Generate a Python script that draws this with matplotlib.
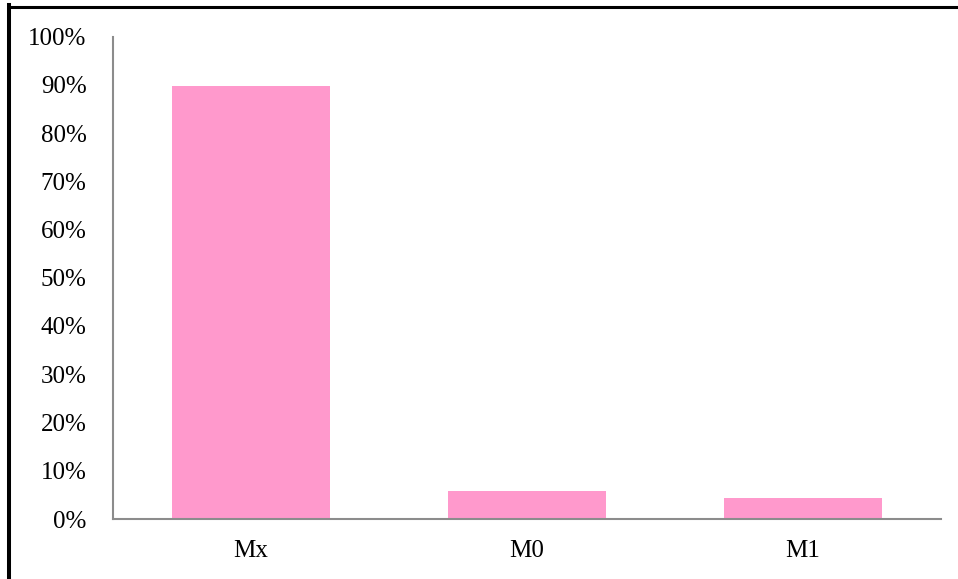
import matplotlib.pyplot as plt
from matplotlib.lines import Line2D
from matplotlib.ticker import PercentFormatter

categories = ['Mx', 'M0', 'M1']
shares = [0.897, 0.058, 0.0435]
y_ticks = [i / 10 for i in range(11)]

plt.rcParams['font.family'] = ['Liberation Serif', 'DejaVu Serif']

W, H = 958, 579
fig = plt.figure(figsize=(W / 100, H / 100), dpi=100)
ax = fig.add_axes([113 / W, 60 / H, 828 / W, 482.5 / H])

ax.bar(categories, shares, width=0.57, color='#FF99CC')

ax.set_xlim(-0.5, 2.5)
ax.set_ylim(0, 1.0)
ax.set_yticks(y_ticks)
ax.yaxis.set_major_formatter(PercentFormatter(1.0, decimals=0))
ax.tick_params(axis='both', length=0, labelsize=18, colors='black')
ax.tick_params(axis='y', pad=19)
ax.tick_params(axis='x', pad=15)

for side in ['top', 'right']:
    ax.spines[side].set_visible(False)
for side in ['left', 'bottom']:
    ax.spines[side].set_color('#8c8c8c')
    ax.spines[side].set_linewidth(1.5)

# black border along the left and top edges
fig.add_artist(Line2D([9.3 / W, 9.3 / W], [0, 1 - 5 / H], transform=fig.transFigure,
                      color='black', linewidth=2.9, solid_capstyle='projecting'))
fig.add_artist(Line2D([9.3 / W, 1], [1 - 6.5 / H, 1 - 6.5 / H], transform=fig.transFigure,
                      color='black', linewidth=2.2, solid_capstyle='butt'))

fig.savefig('out.png', dpi=100)
